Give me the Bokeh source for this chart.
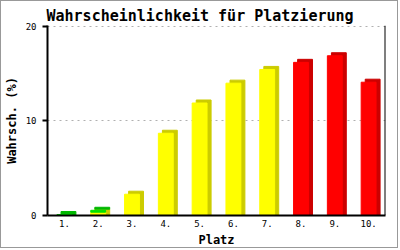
from bokeh.plotting import figure
from bokeh.models import ColumnDataSource, FixedTicker, Span
from bokeh.embed import file_html
from bokeh.resources import INLINE

# data
plaetze = ["1.", "2.", "3.", "4.", "5.", "6.", "7.", "8.", "9.", "10."]
gelb = [0.0, 0.35, 2.25, 8.7, 11.9, 14.0, 15.45, 0.0, 0.0, 0.0]
gruen = [0.1, 0.2, 0.0, 0.0, 0.0, 0.0, 0.0, 0.0, 0.0, 0.0]
rot = [0.0, 0.0, 0.0, 0.0, 0.0, 0.0, 0.0, 16.2, 16.9, 14.1]
y_ticks = [0, 10, 20]

xs = list(range(1, len(plaetze) + 1))
DX = 0.12   # depth offset (x, data units)
DY = 0.32   # depth offset (y, data units)
W = 0.44

FONT = "DejaVu Sans Mono"

p = figure(width=398, height=248, x_range=(0.5, 10.5), y_range=(0, 20.1),
           output_backend="svg", toolbar_location=None,
           title="Wahrscheinlichkeit für Platzierung",
           min_border_left=42, min_border_right=14, min_border_top=24, min_border_bottom=34)
p.styles = {"border": "1px solid #999999"}
p.outline_line_color = None
p.background_fill_color = "white"
p.border_fill_color = "white"

p.title.text_font = FONT
p.title.text_font_size = "15px"
p.title.text_font_style = "bold"
p.title.text_color = "black"
p.title.align = "left"
p.title.offset = -1
p.title.standoff = 2

# segments: (x, bottom, top, front colour, side colour)
segs = []
for i, x in enumerate(xs):
    b = 0.0
    for vals, fc, sc in ((gelb, "#ffff00", "#cccc00"), (rot, "#ff0000", "#cc0000"), (gruen, "#00e000", "#00b800")):
        v = vals[i]
        if v > 0:
            segs.append((x, b, b + v, fc, sc))
            b += v

shadow = ColumnDataSource(dict(
    x=[s[0] + DX for s in segs], bottom=[s[1] + (DY if s[1] > 0 else 0) for s in segs],
    top=[s[2] + DY for s in segs], color=[s[4] for s in segs]))
front = ColumnDataSource(dict(
    x=[s[0] for s in segs], bottom=[s[1] for s in segs],
    top=[s[2] for s in segs], color=[s[3] for s in segs]))

# grid
p.xgrid.visible = False
p.ygrid.ticker = FixedTicker(ticks=y_ticks)
p.ygrid.grid_line_color = "#b0b0b0"
p.ygrid.grid_line_dash = "2 4"

p.vbar(x="x", bottom="bottom", top="top", width=W, color="color", source=shadow)
p.vbar(x="x", bottom="bottom", top="top", width=W, color="color", source=front)

p.add_layout(Span(location=10.5, dimension="height", line_color="black", line_width=2))

# axes
p.yaxis.ticker = FixedTicker(ticks=y_ticks)
p.yaxis.axis_label = "Wahrsch. (%)"
p.xaxis.ticker = FixedTicker(ticks=xs)
p.xaxis.major_label_overrides = {x: lab for x, lab in zip(xs, plaetze)}
p.xaxis.axis_label = "Platz"
for ax in (p.xaxis[0], p.yaxis[0]):
    ax.axis_line_color = "black"
    ax.axis_line_width = 2
    ax.major_tick_line_color = "black"
    ax.major_tick_line_width = 2
    ax.minor_tick_line_color = None
    ax.major_tick_in = 0
    ax.major_label_text_font = FONT
    ax.major_label_text_font_size = "9px"
    ax.major_label_text_color = "black"
    ax.axis_label_text_font = FONT
    ax.axis_label_text_font_size = "12px"
    ax.axis_label_text_font_style = "bold"
    ax.axis_label_text_color = "black"
p.yaxis.major_tick_out = 5
p.yaxis.major_label_standoff = 6
p.yaxis.axis_label_standoff = 4
p.xaxis.major_tick_out = 0
p.xaxis.major_tick_line_color = None
p.xaxis.major_label_standoff = 4
p.xaxis.axis_label_standoff = 3

open("out.html", "w").write(file_html(p, INLINE))
